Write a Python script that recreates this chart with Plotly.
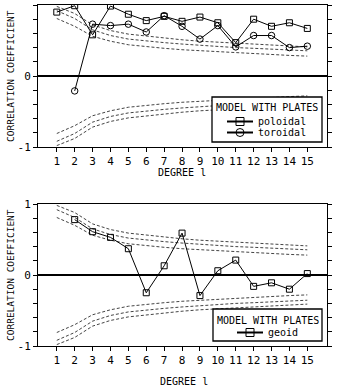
import plotly.graph_objects as go

# ---- data ----
degrees = list(range(1, 16))
poloidal_deg = list(range(1, 16))
poloidal = [0.90, 0.99, 0.58, 0.985, 0.87, 0.78, 0.84, 0.77, 0.83, 0.75, 0.47, 0.80, 0.70, 0.75, 0.67]
toroidal_deg = list(range(2, 16))
toroidal = [-0.21, 0.73, 0.71, 0.73, 0.62, 0.85, 0.70, 0.52, 0.71, 0.41, 0.57, 0.57, 0.40, 0.42]
geoid_deg = list(range(2, 16))
geoid = [0.78, 0.61, 0.53, 0.37, -0.25, 0.13, 0.59, -0.29, 0.06, 0.21, -0.16, -0.11, -0.20, 0.02]

# confidence-level curves (upper set; the lower set is the mirror image)
conf_high = [0.98, 0.88, 0.72, 0.64, 0.59, 0.56, 0.53, 0.51, 0.49, 0.475, 0.46, 0.445, 0.435, 0.42, 0.41]
conf_mid = [0.92, 0.81, 0.65, 0.57, 0.52, 0.49, 0.47, 0.45, 0.43, 0.415, 0.40, 0.39, 0.375, 0.365, 0.355]
conf_low = [0.81, 0.70, 0.56, 0.49, 0.44, 0.41, 0.39, 0.37, 0.355, 0.34, 0.33, 0.315, 0.305, 0.29, 0.28]

x_ticks = list(range(1, 16))
y_ticks = [-1, -0.8, -0.6, -0.4, -0.2, 0, 0.2, 0.4, 0.6, 0.8, 1]
y_ticktext = ["-1", "", "", "", "", "0", "", "", "", "", "1"]

legend_title = "MODEL WITH PLATES"

FONT = "DejaVu Sans Mono"
W, H = 338, 386
ML, MR, MT, MB = 38, 11, 5, 40
PW, PH = W - ML - MR, H - MT - MB


def px(x):
    return (x - ML) / PW


def py(y):
    return (H - MB - y) / PH


fig = go.Figure()

for xa, ya in (("x", "y"), ("x2", "y2")):
    for curve in (conf_high, conf_mid, conf_low):
        for sign in (1, -1):
            fig.add_trace(go.Scatter(
                x=degrees, y=[sign * v for v in curve], xaxis=xa, yaxis=ya,
                mode="lines", line=dict(color="#444444", width=1, dash="3px,2px"),
                showlegend=False, hoverinfo="skip"))

fig.add_trace(go.Scatter(
    x=poloidal_deg, y=poloidal, name="poloidal", mode="lines+markers",
    line=dict(color="black", width=1),
    marker=dict(symbol="square-open", size=6, color="black", line=dict(width=1)),
    xaxis="x", yaxis="y", showlegend=False))
fig.add_trace(go.Scatter(
    x=toroidal_deg, y=toroidal, name="toroidal", mode="lines+markers",
    line=dict(color="black", width=1),
    marker=dict(symbol="circle-open", size=6.5, color="black", line=dict(width=1)),
    xaxis="x", yaxis="y", showlegend=False))
fig.add_trace(go.Scatter(
    x=geoid_deg, y=geoid, name="geoid", mode="lines+markers",
    line=dict(color="black", width=1),
    marker=dict(symbol="square-open", size=6, color="black", line=dict(width=1)),
    xaxis="x2", yaxis="y2", showlegend=False))

ax_common_x = dict(
    range=[-0.05, 16.1], tickvals=x_ticks, ticktext=[str(t) for t in x_ticks],
    ticks="outside", ticklen=4, tickcolor="black", showline=True, linecolor="black",
    linewidth=1, mirror=True, showgrid=False, zeroline=False, automargin=False,
    tickfont=dict(family=FONT, size=11, color="black"))
ax_common_y = dict(
    range=[-1, 1], tickvals=y_ticks, ticktext=y_ticktext,
    ticks="outside", ticklen=4, tickcolor="black", showline=True, linecolor="black",
    linewidth=1, mirror="ticks", showgrid=False, zeroline=True, automargin=False,
    zerolinecolor="black", zerolinewidth=1.5,
    tickfont=dict(family=FONT, size=11, color="black"))

shapes = []
annotations = []


def text_at(text, x, y, size=10, xanchor="center", angle=0):
    annotations.append(dict(text=text, x=px(x), y=py(y), xref="paper", yref="paper",
                            xanchor=xanchor, yanchor="middle", textangle=angle,
                            showarrow=False,
                            font=dict(family=FONT, size=size, color="black")))


def add_legend(box, title_y, rows):
    x0, x1, y0, y1 = box
    shapes.append(dict(type="rect", xref="paper", yref="paper",
                       x0=px(x0), x1=px(x1), y0=py(y1), y1=py(y0),
                       line=dict(color="black", width=1.3), fillcolor="white", layer="above"))
    text_at(legend_title, (x0 + x1) / 2, title_y)
    for (label, symbol, ry, lx0, lx1) in rows:
        cx = (lx0 + lx1) / 2
        shapes.append(dict(type="line", xref="paper", yref="paper",
                           x0=px(lx0), x1=px(lx1), y0=py(ry), y1=py(ry),
                           line=dict(color="black", width=2), layer="above"))
        shapes.append(dict(type=symbol, xref="paper", yref="paper",
                           x0=px(cx - 4), x1=px(cx + 4), y0=py(ry + 4), y1=py(ry - 4),
                           line=dict(color="black", width=1), layer="above"))
        text_at(label, lx1 + 3, ry, xanchor="left")


add_legend((212, 322, 97, 142), 107.5, [("poloidal", "rect", 121.5, 227, 253),
                                         ("toroidal", "circle", 132.5, 227, 253)])
add_legend((213, 322, 309, 341), 320, [("geoid", "rect", 332.5, 237, 263)])

text_at("CORRELATION COEFFICIENT", 10, 76, size=9.5, angle=-90)
text_at("CORRELATION COEFFICIENT", 10, 275, size=9.5, angle=-90)
text_at("DEGREE l", 182, 172)
text_at("DEGREE l", 184, 382)

fig.update_layout(
    width=W, height=H,
    margin=dict(l=ML, r=MR, t=MT, b=MB, autoexpand=False),
    paper_bgcolor="white", plot_bgcolor="white",
    showlegend=False,
    xaxis=dict(domain=[0, 1], anchor="y", **ax_common_x),
    yaxis=dict(domain=[py(147), py(5)], anchor="x", **ax_common_y),
    xaxis2=dict(domain=[0, 1], anchor="y2", **ax_common_x),
    yaxis2=dict(domain=[py(346), py(204)], anchor="x2", **ax_common_y),
    font=dict(family=FONT, color="black"),
    shapes=shapes,
    annotations=annotations,
)

fig.write_html("out.html")
